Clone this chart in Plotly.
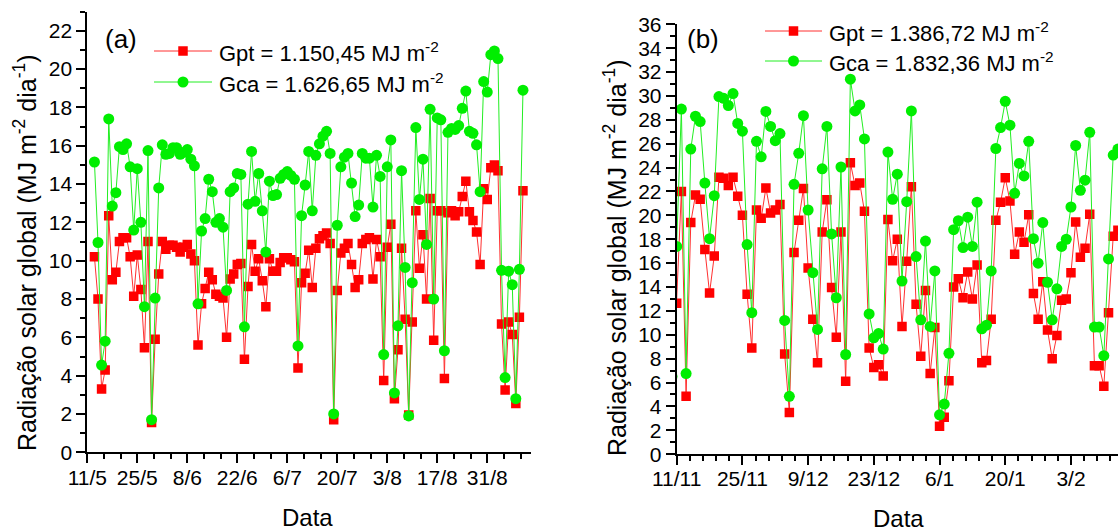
import pandas as pd
import plotly.graph_objects as go

# ---- Data: daily global solar radiation (MJ m-2 dia-1) ----
# Period (a): May - September
start_a = "2012-05-13"
gpt_a = [10.2, 8.0, 3.3, 4.3, 12.35, 9.0, 9.4, 11.0, 11.2, 11.2,
         10.2, 8.15, 10.3, 8.5, 5.45, 11.0, 1.55, 5.9, 9.3, 11.0,
         10.6, 10.8, 10.8, 10.7, 10.45, 10.7, 10.85, 10.35, 10.0, 5.6,
         7.75, 8.55, 9.4, 9.0, 8.25, 8.15, 8.05, 6.0, 9.05, 9.3,
         9.8, 9.85, 4.85, 8.65, 10.85, 9.45, 10.1, 8.95, 7.6, 10.1,
         9.45, 9.45, 9.9, 10.15, 10.15, 10.05, 9.95, 4.4, 8.85, 9.35,
         10.55, 8.6, 10.65, 11.15, 11.3, 11.45, 10.9, 1.7, 8.45, 10.4,
         10.65, 10.9, 9.8, 8.6, 9.0, 10.9, 11.1, 11.2, 9.05, 11.1,
         10.2, 3.75, 10.7, 11.9, 2.8, 5.35, 10.65, 6.95, 1.95, 6.8,
         12.6, 9.6, 11.35, 8.0, 13.25, 5.85, 12.6, 12.6, 3.85, 12.5,
         12.6, 12.35, 12.55, 13.35, 14.15, 12.55, 12.1, 11.5, 9.8, 13.75,
         13.2, 14.85, 15.0, 14.7, 6.7, 3.25, 6.8, 6.15, 2.55, 7.05, 13.65]
gca_a = [15.15, 10.95, 4.55, 5.8, 17.4, 12.85, 13.55, 15.95, 15.8, 16.1,
         14.9, 11.6, 14.8, 12.0, 7.6, 15.75, 1.7, 8.05, 13.8, 16.05,
         15.55, 15.6, 15.9, 15.9, 15.55, 15.65, 15.8, 15.3, 14.95, 7.75,
         11.55, 12.2, 14.25, 13.6, 12.0, 12.2, 11.75, 8.45, 13.6, 13.8,
         14.55, 14.5, 6.55, 12.95, 15.7, 13.1, 14.55, 12.6, 10.45, 14.15,
         13.4, 13.45, 14.3, 14.5, 14.65, 14.45, 14.25, 5.55, 12.35, 13.95,
         15.7, 12.6, 15.5, 16.1, 16.5, 16.75, 15.6, 2.0, 11.85, 14.9,
         15.4, 15.6, 14.05, 12.3, 12.9, 15.6, 15.35, 15.35, 12.8, 15.5,
         14.4, 5.1, 14.9, 16.3, 3.1, 6.6, 14.7, 9.65, 1.9, 8.85,
         16.95, 13.2, 15.3, 10.85, 17.9, 8.0, 17.45, 17.35, 5.3, 16.7,
         16.9, 16.85, 17.05, 17.95, 18.85, 16.75, 16.65, 16.05, 13.6, 19.35,
         18.8, 20.75, 20.95, 20.55, 9.5, 3.9, 9.45, 8.75, 2.8, 9.55, 18.9]

# Period (b): November - February
start_b = "2012-11-10"
gpt_b = [4.0,
         12.65, 22.0, 4.85, 19.4, 21.7, 21.35, 17.15, 13.5, 16.6, 23.2,
         23.1, 22.5, 23.2, 21.6, 20.0, 13.4, 8.9, 20.45, 19.75, 22.3,
         20.2, 20.45, 20.9, 8.4, 3.5, 16.9, 19.6, 22.25, 15.6, 11.3,
         7.65, 18.6, 21.3, 13.95, 9.8, 18.6, 6.1, 24.4, 22.5, 22.7,
         20.35, 8.9, 7.25, 7.5, 6.55, 19.65, 16.2, 18.0, 10.7, 16.15,
         22.4, 12.55, 8.2, 13.7, 6.75, 10.6, 2.35, 3.1, 6.15, 14.0,
         14.7, 13.1, 15.25, 13.0, 15.85, 7.65, 7.85, 11.3, 19.6, 21.1,
         23.15, 21.2, 16.75, 18.6, 17.75, 20.05, 13.45, 11.3, 14.45, 10.4,
         8.0, 9.95, 12.9, 13.0, 15.2, 19.45, 16.5, 17.25, 20.1, 7.4,
         7.4, 5.7, 11.85, 18.25, 18.75]
gca_b = [6.5,
         17.4, 28.9, 6.75, 25.55, 28.3, 27.85, 22.7, 18.05, 21.65, 29.95,
         29.8, 29.2, 30.2, 27.7, 27.05, 17.55, 11.85, 26.2, 24.9, 28.7,
         27.45, 26.25, 26.85, 11.2, 4.85, 22.6, 25.2, 28.35, 20.45, 15.2,
         10.45, 23.9, 27.45, 18.45, 13.1, 24.05, 8.35, 31.4, 28.75, 29.25,
         26.4, 11.75, 9.75, 10.1, 8.8, 25.3, 21.35, 23.45, 14.5, 21.15,
         28.75, 16.55, 11.25, 17.85, 10.7, 15.35, 3.3, 4.2, 8.45, 18.8,
         19.55, 17.3, 19.85, 17.4, 21.1, 10.5, 10.8, 15.35, 25.6, 27.35,
         29.55, 27.55, 21.85, 24.35, 23.3, 26.2, 18.05, 16.0, 19.4, 14.4,
         11.25, 13.85, 17.4, 18.0, 20.7, 25.85, 22.1, 22.95, 26.95, 10.65,
         10.65, 8.25, 16.35, 25.05, 25.55]

legend_a = ["Gpt = 1.150,45 MJ m<sup>-2</sup>", "Gca = 1.626,65 MJ m<sup>-2</sup>"]
legend_b = ["Gpt = 1.386,72 MJ m<sup>-2</sup>", "Gca = 1.832,36 MJ m<sup>-2</sup>"]
panel_tags = ["(a)", "(b)"]
y_title = "Radiação solar global (MJ m<sup>-2</sup> dia<sup>-1</sup>)"
x_title = "Data"

dates_a = pd.date_range(start_a, periods=len(gpt_a), freq="D")
dates_b = pd.date_range(start_b, periods=len(gpt_b), freq="D")

# ---- Styling ----
W, H = 1118, 531
FONT = "Liberation Sans, Arial, sans-serif"
RED, GREEN = "#ff0000", "#00ee00"
RED_LINE, GREEN_LINE = "#ff3030", "#22ee22"
SQ_SIZE, CIRC_SIZE = 9.5, 11
DAY_MS = 86400000


def px(x):
    return x / W


def py(y):
    return 1 - y / H


fig = go.Figure()


def add_series(xs, ys, xa, ya, color, line_color, symbol, size):
    fig.add_trace(go.Scatter(
        x=xs, y=ys, xaxis=xa, yaxis=ya, mode="lines+markers",
        line=dict(color=line_color, width=1),
        marker=dict(symbol=symbol, size=size, color=color, line=dict(width=0)),
        showlegend=False, hoverinfo="x+y"))


add_series(dates_a, gpt_a, "x", "y", RED, RED_LINE, "square", SQ_SIZE)
add_series(dates_a, gca_a, "x", "y", GREEN, GREEN_LINE, "circle", CIRC_SIZE)
add_series(dates_b, gpt_b, "x2", "y2", RED, RED_LINE, "square", SQ_SIZE)
add_series(dates_b, gca_b, "x2", "y2", GREEN, GREEN_LINE, "circle", CIRC_SIZE)

tick_font = dict(family=FONT, size=21, color="black")
common = dict(showline=True, linecolor="black", linewidth=2, mirror=False,
              ticks="outside", ticklen=9, tickwidth=1.5, tickcolor="black",
              showgrid=False, zeroline=False, tickfont=tick_font,
              automargin=False)

x0a = pd.Timestamp("2012-05-11")
x0b = pd.Timestamp("2012-11-11")
fig.update_layout(
    width=W, height=H, margin=dict(l=0, r=0, t=0, b=0, pad=0),
    paper_bgcolor="white", plot_bgcolor="white",
    xaxis=dict(domain=[px(87.3), px(531)], anchor="y", type="date",
               range=[x0a, x0a + pd.Timedelta(days=124.25)],
               tick0=x0a, dtick=14 * DAY_MS, tickformat="%-d/%-m",
               ticklabelstandoff=-4,
               minor=dict(tick0=x0a, dtick=14 * DAY_MS / 3, ticks="outside",
                          ticklen=5, tickwidth=1.5, tickcolor="black"),
               **common),
    yaxis=dict(domain=[py(452.3), py(11.6)], anchor="x", range=[0, 23],
               tick0=0, dtick=2,
               minor=dict(tick0=0, dtick=1, ticks="outside", ticklen=5,
                          tickwidth=1.5, tickcolor="black"),
               **common),
    xaxis2=dict(domain=[px(676.7), 1.0], anchor="y2", type="date",
                range=[x0b, x0b + pd.Timedelta(days=94.02)],
                tick0=x0b, dtick=14 * DAY_MS, tickformat="%-d/%-m",
                ticklabelstandoff=-4,
                minor=dict(tick0=x0b, dtick=14 * DAY_MS / 5, ticks="outside",
                           ticklen=5, tickwidth=1.5, tickcolor="black"),
                **common),
    yaxis2=dict(domain=[py(454.2), py(24.3)], anchor="x2", range=[0, 36],
                tick0=0, dtick=2,
                minor=dict(tick0=0, dtick=1, ticks="outside", ticklen=5,
                           tickwidth=1.5, tickcolor="black"),
                **common),
)

annotations = []
shapes = []


def text(x, y, s, size, angle=0, xanchor="center"):
    annotations.append(dict(
        x=px(x), y=py(y), xref="paper", yref="paper", text=s, showarrow=False,
        textangle=angle, xanchor=xanchor, yanchor="middle",
        font=dict(family=FONT, size=size, color="black")))


def legend_row(x_line0, x_line1, y, label, color, line_color, kind, size):
    shapes.append(dict(type="line", xref="paper", yref="paper",
                       x0=px(x_line0), x1=px(x_line1), y0=py(y), y1=py(y),
                       line=dict(color=line_color, width=1)))
    xc = (x_line0 + x_line1) / 2
    r = size / 2
    shapes.append(dict(type="rect" if kind == "square" else "circle",
                       xref="paper", yref="paper",
                       x0=px(xc - r), x1=px(xc + r), y0=py(y + r), y1=py(y - r),
                       fillcolor=color, line=dict(width=0)))
    text(x_line1 + 5, y + 1, label, 22, xanchor="left")


# Panel (a) decorations
text(121, 39, panel_tags[0], 26)
legend_row(154, 212, 51, legend_a[0], RED, RED_LINE, "square", SQ_SIZE)
legend_row(154, 212, 82, legend_a[1], GREEN, GREEN_LINE, "circle", CIRC_SIZE)
text(25, 253, y_title, 25, angle=-90)
text(307, 517, x_title, 24)

# Panel (b) decorations
text(703, 39, panel_tags[1], 26)
legend_row(765, 822, 31, legend_b[0], RED, RED_LINE, "square", SQ_SIZE)
legend_row(765, 822, 61, legend_b[1], GREEN, GREEN_LINE, "circle", CIRC_SIZE)
text(615, 258, y_title, 25, angle=-90)
text(898, 518, x_title, 24)

fig.update_layout(annotations=annotations, shapes=shapes)

fig.write_html("out.html")
